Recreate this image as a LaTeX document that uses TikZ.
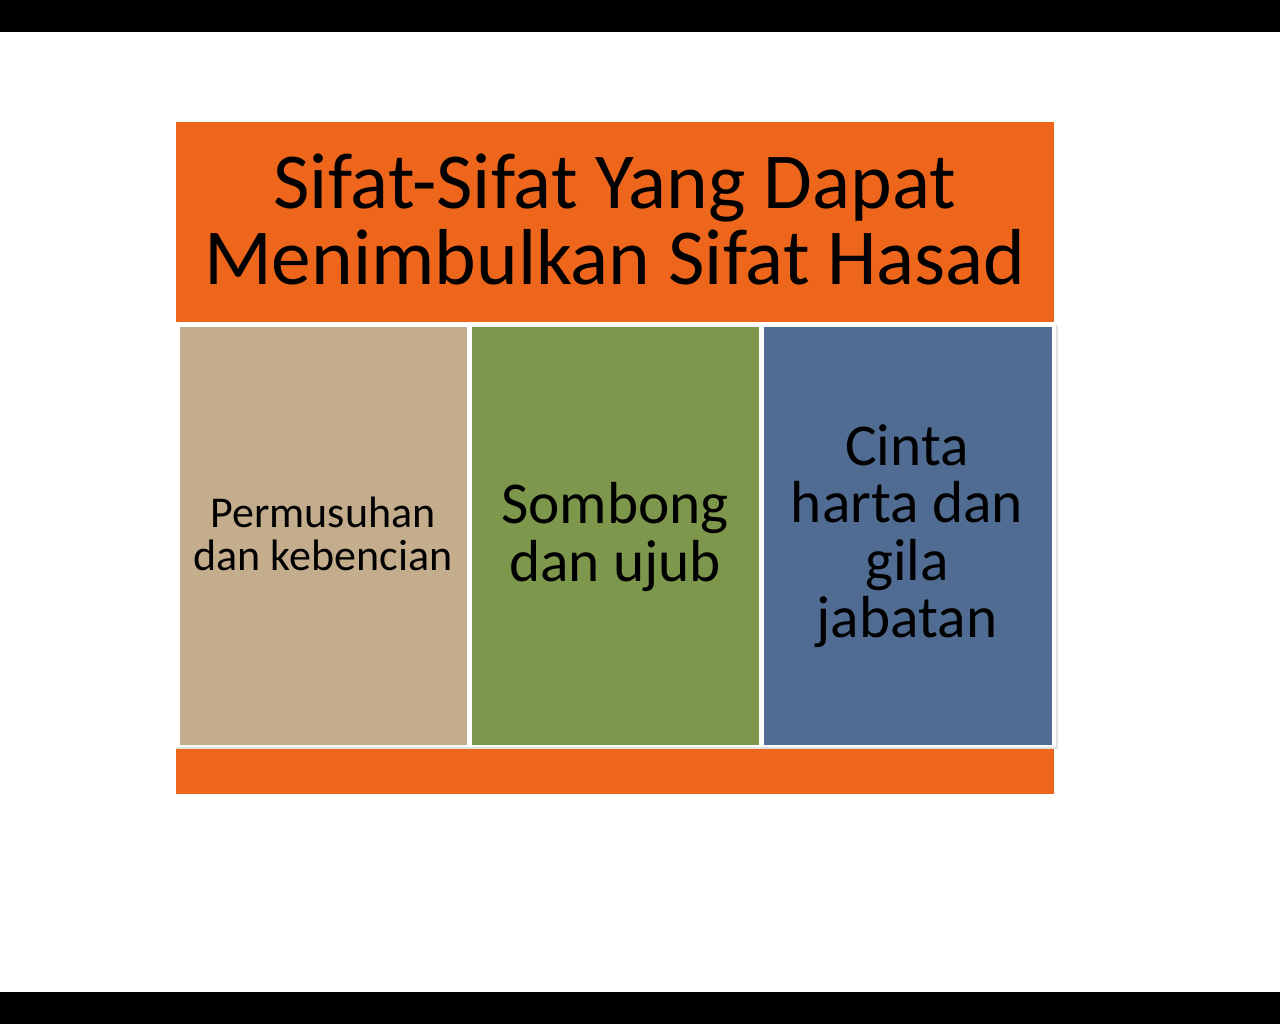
\documentclass[tikz,border=0pt]{standalone}
\usepackage{fontspec}
\setmainfont{Carlito}
\definecolor{orangeA}{HTML}{EE661C}
\definecolor{tanA}{HTML}{C3AD8C}
\definecolor{greenA}{HTML}{7D974C}
\definecolor{blueA}{HTML}{506C92}
\tikzset{
  col/.style={draw=none, inner sep=0pt, align=center, text=black},
}
\begin{document}
\begin{tikzpicture}[x=0.75pt,y=-0.75pt]
\useasboundingbox (0,0) rectangle (1280,1024);
\fill[white] (0,0) rectangle (1280,1024);
\fill[black] (0,0) rectangle (1280,32);
\fill[black] (0,992) rectangle (1280,1024);
% orange top and bottom
\fill[orangeA] (176,122) rectangle (1054,322);
\fill[orangeA] (176,748) rectangle (1054,794);
% shadow + white frame
\fill[black!12] (176,325) rectangle (1058,749);
\fill[white] (175,323) rectangle (1056,747);
% columns
\fill[tanA] (180,327) rectangle (467,745);
\fill[greenA] (472,327) rectangle (759,745);
\fill[blueA] (764,327) rectangle (1052,745);
\node[col, font=\fontsize{59.5}{57}\selectfont] (title) at (615,219) {Sifat-Sifat Yang Dapat\\Menimbulkan Sifat Hasad};
\node[col, font=\fontsize{33}{32.3}\selectfont] (c1) at (323,534) {Permusuhan\\dan kebencian};
\node[col, font=\fontsize{44.5}{43}\selectfont] (c2) at (615,537) {Sombong\\dan ujub};
\node[col, font=\fontsize{44.5}{43}\selectfont] (c3) at (907,536) {Cinta\\harta dan\\gila\\jabatan};
\end{tikzpicture}
\end{document}
